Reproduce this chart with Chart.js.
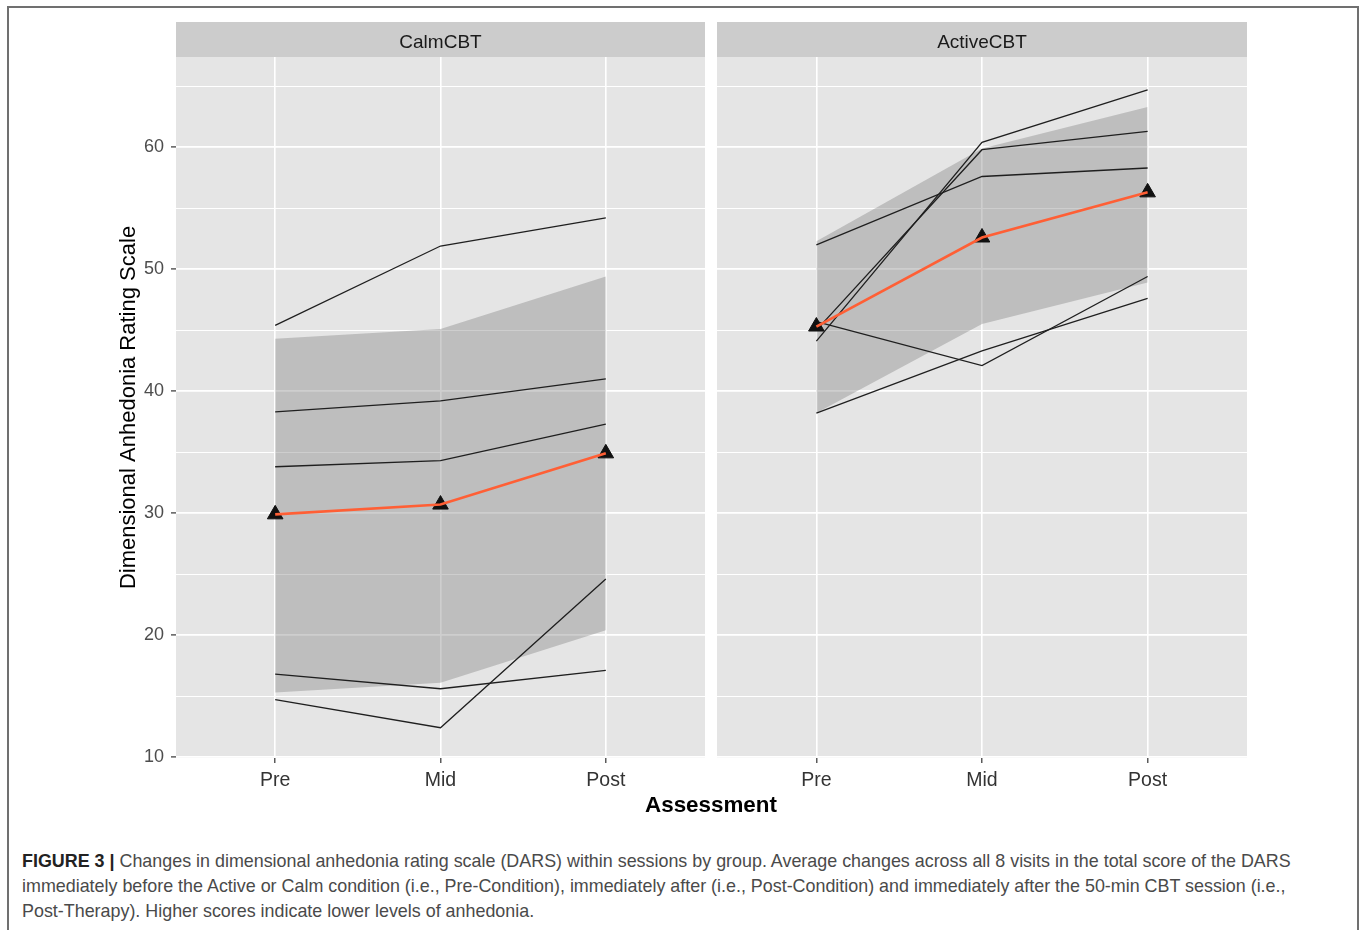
<!DOCTYPE html>
<html>
<head>
<meta charset="utf-8">
<script src="https://cdn.jsdelivr.net/npm/chart.js@4.4.1/dist/chart.umd.min.js"></script>
<style>
  body { margin: 0; background: #fff; width: 1360px; height: 930px; overflow: hidden; position: relative; font-family: "Liberation Sans", Arial, sans-serif; }
  .frame { position: absolute; left: 7px; top: 6px; width: 1348px; height: 960px; border: 2px solid #707070; }
  canvas { position: absolute; }
  #xTitle { position: absolute; left: 561px; width: 300px; top: 792px; text-align: center; font-weight: bold; font-size: 22.4px; color: #000; }
  .caption { position: absolute; left: 22px; top: 849px; font-size: 17.9px; line-height: 25px; color: #4a4a4a; white-space: nowrap; }
  .caption b { color: #222; }
</style>
</head>
<body>
<div class="frame"></div>
<canvas id="calmChart" width="615" height="785" style="left:90px; top:22px;"></canvas>
<canvas id="activeChart" width="530" height="785" style="left:717px; top:22px;"></canvas>
<div id="xTitle">Assessment</div>
<div class="caption">
  <b>FIGURE 3 |</b> Changes in dimensional anhedonia rating scale (DARS) within sessions by group. Average changes across all 8 visits in the total score of the DARS<br>
  immediately before the Active or Calm condition (i.e., Pre-Condition), immediately after (i.e., Post-Condition) and immediately after the 50-min CBT session (i.e.,<br>
  Post-Therapy). Higher scores indicate lower levels of anhedonia.
</div>
<script>
// Data
const assessments = ['Pre', 'Mid', 'Post'];
const yMajor = [10, 20, 30, 40, 50, 60];
const yMinor = [15, 25, 35, 45, 55, 65];

// CalmCBT panel
const calmS1 = [45.4, 51.9, 54.2];
const calmS2 = [38.3, 39.2, 41.0];
const calmS3 = [33.8, 34.3, 37.3];
const calmS4 = [16.8, 15.6, 17.1];
const calmS5 = [14.7, 12.4, 24.6];
const calmMean = [29.9, 30.7, 34.9];
const calmUpper = [44.3, 45.1, 49.4];
const calmLower = [15.3, 16.1, 20.4];

// ActiveCBT panel
const activeS1 = [52.0, 57.6, 58.3];
const activeS2 = [44.1, 60.4, 64.7];
const activeS3 = [45.0, 59.8, 61.3];
const activeS4 = [45.7, 42.1, 49.4];
const activeS5 = [38.2, 43.3, 47.6];
const activeMean = [45.3, 52.6, 56.3];
const activeUpper = [52.3, 59.9, 63.3];
const activeLower = [38.2, 45.5, 48.9];

const FONT = '"Liberation Sans", Arial, sans-serif';
const toPts = arr => arr.map((v, i) => ({ x: i + 1, y: v }));

// grey panel background + facet strip on top
const panelPlugin = {
    id: 'panel',
    beforeDraw(chart, args, opts) {
        const { ctx, chartArea: a } = chart;
        ctx.save();
        ctx.fillStyle = '#E5E5E5';
        ctx.fillRect(a.left, a.top, a.right - a.left, a.bottom - a.top);
        ctx.fillStyle = '#CCCCCC';
        ctx.fillRect(a.left, a.top - 35, a.right - a.left, 35);
        ctx.fillStyle = '#1A1A1A';
        ctx.font = '19px ' + FONT;
        ctx.textAlign = 'center';
        ctx.textBaseline = 'middle';
        ctx.fillText(opts.label, (a.left + a.right) / 2, a.top - 14);
        ctx.restore();
    }
};

function buildDatasets(subjects, mean, upper, lower) {
    const sets = [];
    sets.push({ data: toPts(mean), borderColor: '#FF5F35', borderWidth: 2.6, pointRadius: 0, order: 0 });
    sets.push({ data: toPts(mean), showLine: false, pointStyle: 'triangle', pointRadius: 9,
        pointBackgroundColor: '#111', pointBorderColor: '#111', pointBorderWidth: 1, order: 1 });
    subjects.forEach(s => {
        sets.push({ data: toPts(s), borderColor: '#1F1F1F', borderWidth: 1.3, pointRadius: 0, order: 2 });
    });
    sets.push({ data: toPts(upper), borderWidth: 0, pointRadius: 0, fill: '+1',
        backgroundColor: 'rgba(127,127,127,0.38)', order: 3 });
    sets.push({ data: toPts(lower), borderWidth: 0, pointRadius: 0, fill: false, order: 3 });
    return sets;
}

function makeChart(id, label, datasets, showY) {
    return new Chart(document.getElementById(id), {
        type: 'line',
        data: { datasets },
        plugins: [panelPlugin],
        options: {
            responsive: false,
            animation: false,
            devicePixelRatio: 1,
            layout: { autoPadding: false, padding: { top: 35, left: 0, right: 0, bottom: 0 } },
            elements: { line: { tension: 0 } },
            plugins: {
                legend: { display: false },
                tooltip: { enabled: false },
                panel: { label }
            },
            scales: {
                x: {
                    type: 'linear',
                    min: 0.4,
                    max: 3.6,
                    afterBuildTicks: scale => { scale.ticks = assessments.map((_, i) => ({ value: i + 1 })); },
                    afterFit: scale => { scale.height = 49; },
                    border: { display: false },
                    grid: { color: '#FFFFFF', lineWidth: 1.6, tickColor: '#333', tickLength: 5, tickWidth: 1.2 },
                    ticks: {
                        autoSkip: false,
                        maxRotation: 0,
                        padding: 6,
                        color: '#333333',
                        font: { family: FONT, size: 19.5 },
                        callback: v => assessments[v - 1] || ''
                    }
                },
                y: {
                    min: 9.92,
                    max: 67.4,
                    afterBuildTicks: scale => {
                        scale.ticks = yMajor.concat(yMinor).sort((a, b) => a - b).map(v => ({ value: v }));
                    },
                    afterFit: scale => { scale.width = showY ? 86 : 0; },
                    border: { display: false },
                    grid: {
                        color: '#FFFFFF',
                        lineWidth: c => (yMajor.includes(c.tick.value) ? 1.8 : 1.0),
                        drawTicks: showY,
                        tickLength: 5,
                        tickWidth: 1.2,
                        tickColor: c => (yMajor.includes(c.tick.value) ? '#333' : 'rgba(0,0,0,0)')
                    },
                    ticks: {
                        display: showY,
                        autoSkip: false,
                        padding: 7,
                        color: '#4D4D4D',
                        font: { family: FONT, size: 18 },
                        callback: v => (yMajor.includes(v) ? String(v) : '')
                    },
                    title: {
                        display: showY,
                        text: 'Dimensional Anhedonia Rating Scale',
                        color: '#000',
                        font: { family: FONT, size: 22 },
                        padding: { top: 26, bottom: 0 }
                    }
                }
            }
        }
    });
}

makeChart('calmChart', 'CalmCBT',
    buildDatasets([calmS1, calmS2, calmS3, calmS4, calmS5], calmMean, calmUpper, calmLower), true);
makeChart('activeChart', 'ActiveCBT',
    buildDatasets([activeS1, activeS2, activeS3, activeS4, activeS5], activeMean, activeUpper, activeLower), false);
</script>
</body>
</html>
